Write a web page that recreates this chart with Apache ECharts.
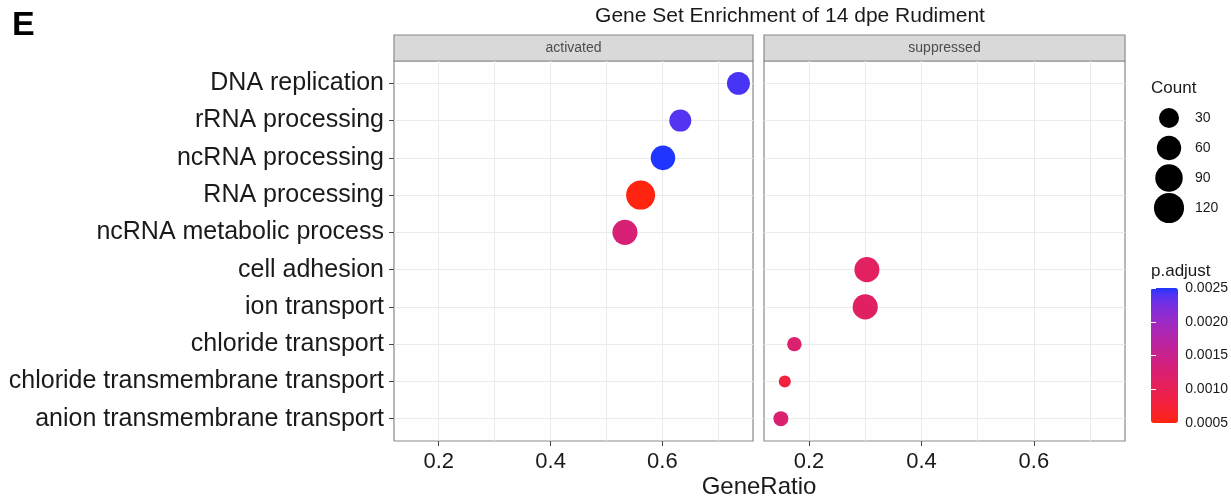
<!DOCTYPE html>
<html><head><meta charset="utf-8">
<script src="https://cdn.jsdelivr.net/npm/echarts@6/dist/echarts.min.js"></script>
<style>html,body{margin:0;padding:0;background:#fff}#c{width:1231px;height:496px}</style>
</head><body><div id="c"></div>
<script>
// ---------- data ----------
const categories = ['DNA replication','rRNA processing','ncRNA processing','RNA processing','ncRNA metabolic process','cell adhesion','ion transport','chloride transport','chloride transmembrane transport','anion transmembrane transport'];
const panels = ['activated','suppressed'];
const activatedTerms = ['DNA replication','rRNA processing','ncRNA processing','RNA processing','ncRNA metabolic process'];
const activatedRatio = [0.736,0.632,0.601,0.561,0.533];
const activatedCount = [49,42,62,107,66];
const activatedPadj = [0.00242,0.00238,0.0025,0.0005,0.0013];
const suppressedTerms = ['cell adhesion','ion transport','chloride transport','chloride transmembrane transport','anion transmembrane transport'];
const suppressedRatio = [0.303,0.300,0.174,0.157,0.150];
const suppressedCount = [66,67,10,8,11];
const suppressedPadj = [0.00110,0.00114,0.00124,0.00080,0.00124];
const xTicks = [0.2,0.4,0.6];
const xGrid = [0.2,0.3,0.4,0.5,0.6,0.7];
const countBreaks = [30,60,90,120];
const padjMin = 0.0005, padjMax = 0.0025, padjStep = 0.0005;

// ---------- scales ----------
function sizeOf(c){ return 12 + 1.71*Math.sqrt(Math.max(0, c-8)); }
function hex2rgb(h){ return [1,3,5].map(i=>parseInt(h.substr(i,2),16)/255); }
function lin(c){ return c<=0.04045? c/12.92 : Math.pow((c+0.055)/1.055,2.4); }
function unlin(c){ c=Math.min(1,Math.max(0,c)); return c<=0.0031308? 12.92*c : 1.055*Math.pow(c,1/2.4)-0.055; }
function toLab(h){
  const [r,g,b]=hex2rgb(h).map(lin);
  const X=(0.4124*r+0.3576*g+0.1805*b)/0.95047, Y=0.2126*r+0.7152*g+0.0722*b, Z=(0.0193*r+0.1192*g+0.9505*b)/1.08883;
  const f=t=>t>0.008856? Math.cbrt(t) : 7.787*t+16/116;
  return [116*f(Y)-16, 500*(f(X)-f(Y)), 200*(f(Y)-f(Z))];
}
function fromLab([L,a,b]){
  const fy=(L+16)/116, fx=fy+a/500, fz=fy-b/200;
  const g=t=>t*t*t>0.008856? t*t*t : (t-16/116)/7.787;
  const X=g(fx)*0.95047, Y=g(fy), Z=g(fz)*1.08883;
  const r=3.2406*X-1.5372*Y-0.4986*Z, gg=-0.9689*X+1.8758*Y+0.0415*Z, bb=0.0557*X-0.2040*Y+1.0570*Z;
  return '#'+[r,gg,bb].map(v=>Math.round(unlin(v)*255).toString(16).padStart(2,'0')).join('');
}
const lowLab = toLab('#ff2410'), highLab = toLab('#1e36ff');
const colorStops = [];
for(let i=0;i<=20;i++){ const t=i/20; colorStops.push(fromLab(lowLab.map((v,k)=>v+(highLab[k]-v)*t))); }

const FONT = 'Liberation Sans, Arial, sans-serif';
const GRID_LINE = '#ebebeb';
const BORDER = '#8a8a8a';
const xMin = 0.12, xMax = 0.762;

function panelX(gi){
  return [
    {gridIndex:gi, type:'value', min:xMin, max:xMax, axisLine:{show:false},
     axisTick:{show:false, customValues:xGrid},
     splitLine:{show:true, lineStyle:{color:GRID_LINE, width:1}},
     axisLabel:{customValues:xTicks, fontSize:22, color:'#1a1a1a', fontFamily:FONT, margin:10, formatter:v=>v.toFixed(1)}},
    {gridIndex:gi, type:'value', position:'bottom', min:xMin, max:xMax, axisLine:{show:false},
     axisTick:{show:true, customValues:xTicks, length:5, lineStyle:{color:'#444'}},
     splitLine:{show:false}, axisLabel:{show:false}}
  ];
}
function panelY(gi, labels){
  const idx = categories.map((_,i)=>i);
  return {gridIndex:gi, type:'value', min:-0.6, max:9.6, inverse:true, axisLine:{show:false},
    axisTick:{show:labels, customValues:idx, length:5, lineStyle:{color:'#444'}},
    splitLine:{show:true, lineStyle:{color:GRID_LINE, width:1}},
    axisLabel:{show:labels, customValues:idx, formatter:v=>categories[Math.round(v)], fontSize:25, color:'#1a1a1a', fontFamily:FONT, margin:10}};
}
function pts(terms, ratio, count, padj){
  return terms.map((t,i)=>[ratio[i], categories.indexOf(t), count[i], padj[i]]);
}

const chart = echarts.init(document.getElementById('c'));
const stripY = 35, stripH = 26;
const panelBoxes = [{left:394, width:359},{left:764, width:361}];
const graphics = [
  {type:'text', left:12, top:9, style:{text:'E', font:'bold 34px '+FONT, fill:'#000'}},
  {type:'text', x:790, y:16, style:{text:'Gene Set Enrichment of 14 dpe Rudiment', font:'21px '+FONT, fill:'#1a1a1a', textAlign:'center', textVerticalAlign:'middle'}},
  {type:'text', x:759, y:487, style:{text:'GeneRatio', font:'24px '+FONT, fill:'#1a1a1a', textAlign:'center', textVerticalAlign:'middle'}},
  {type:'text', x:1151, y:88, style:{text:'Count', font:'17px '+FONT, fill:'#1a1a1a', textVerticalAlign:'middle'}},
  {type:'text', x:1151, y:271, style:{text:'p.adjust', font:'17px '+FONT, fill:'#1a1a1a', textVerticalAlign:'middle'}}
];
panels.forEach((p,i)=>{
  const b = panelBoxes[i];
  graphics.push({type:'rect', shape:{x:b.left, y:stripY, width:b.width, height:stripH}, style:{fill:'#d9d9d9', stroke:BORDER, lineWidth:1.2}});
  graphics.push({type:'text', x:b.left+b.width/2, y:stripY+stripH/2, style:{text:p, font:'14px '+FONT, fill:'#4d4d4d', textAlign:'center', textVerticalAlign:'middle'}});
});

chart.setOption({
  animation:false,
  backgroundColor:'#fff',
  grid:[
    {left:394, top:61, width:359, height:380, show:true, borderColor:BORDER, borderWidth:1.2, backgroundColor:'#fff'},
    {left:764, top:61, width:361, height:380, show:true, borderColor:BORDER, borderWidth:1.2, backgroundColor:'#fff'},
    {left:1150, top:103, width:38, height:120},
    {left:1151, top:288, width:27, height:135}
  ],
  xAxis:[...panelX(0), ...panelX(1),
    {gridIndex:2, type:'value', min:0, max:1, show:false},
    {gridIndex:3, type:'value', min:0, max:1, show:false}],
  yAxis:[panelY(0,true), panelY(1,false),
    {gridIndex:2, type:'category', data:countBreaks.map(String), inverse:true, position:'right',
     axisLine:{show:false}, axisTick:{show:false}, splitLine:{show:false},
     axisLabel:{fontSize:14, color:'#1a1a1a', fontFamily:FONT, margin:7}},
    {gridIndex:3, type:'value', min:padjMin, max:padjMax, interval:padjStep, position:'right', z:10,
     axisLine:{show:false}, splitLine:{show:false},
     axisTick:{show:true, inside:true, length:5, lineStyle:{color:'#fff', width:1}},
     axisLabel:{fontSize:14, color:'#1a1a1a', fontFamily:FONT, margin:9, formatter:v=>v.toFixed(4)}},
    {gridIndex:3, type:'value', min:padjMin, max:padjMax, interval:padjStep, position:'left', z:10,
     axisLine:{show:false}, splitLine:{show:false}, axisLabel:{show:false},
     axisTick:{show:true, inside:true, length:5, lineStyle:{color:'#fff', width:1}}}
  ],
  visualMap:{type:'continuous', min:padjMin, max:padjMax, dimension:3, seriesIndex:[0,1],
    inRange:{color:colorStops}, left:1151, top:288, itemWidth:27, itemHeight:135,
    calculable:false, padding:0, orient:'vertical', text:null, hoverLink:false},
  graphic:graphics,
  series:[
    {type:'scatter', xAxisIndex:0, yAxisIndex:0, silent:true, symbolSize:v=>sizeOf(v[2]), itemStyle:{opacity:1},
     data:pts(activatedTerms, activatedRatio, activatedCount, activatedPadj)},
    {type:'scatter', xAxisIndex:2, yAxisIndex:1, silent:true, symbolSize:v=>sizeOf(v[2]), itemStyle:{opacity:1},
     data:pts(suppressedTerms, suppressedRatio, suppressedCount, suppressedPadj)},
    {type:'scatter', xAxisIndex:4, yAxisIndex:2, silent:true, symbolSize:v=>sizeOf(v[2]), itemStyle:{color:'#000', opacity:1},
     data:countBreaks.map(c=>[0.5, String(c), c])}
  ]
});
</script></body></html>
